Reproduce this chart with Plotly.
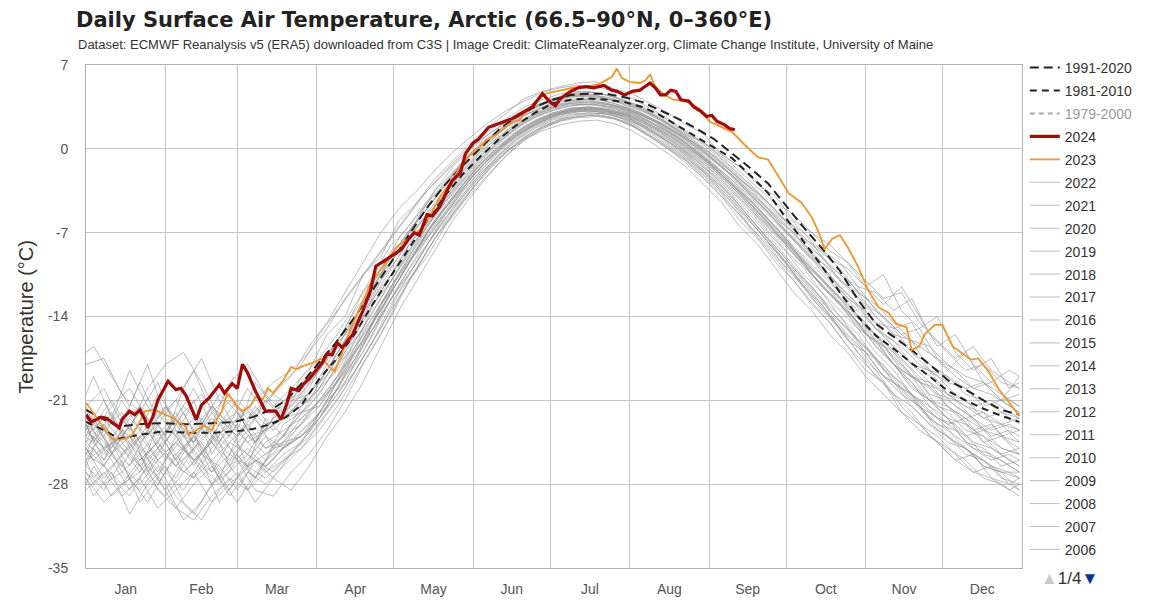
import plotly.graph_objects as go

# ---------------- axes / labels ----------------
month_names = ["Jan", "Feb", "Mar", "Apr", "May", "Jun", "Jul", "Aug", "Sep", "Oct", "Nov", "Dec"]
month_starts = [0, 31, 59, 90, 120, 151, 181, 212, 243, 273, 304, 334, 365]
month_mids = [15.5, 45, 74.5, 105, 135.5, 166, 196.5, 227.5, 258, 288.5, 319, 349.5]
y_ticks = [-35, -28, -21, -14, -7, 0, 7]
y_tick_text = ["-35", "-28", "-21", "-14", "-7", "0", "7"]

# ---------------- climatologies ----------------
clim_days = [0, 7, 13, 20, 30, 40, 50, 58, 65, 72, 78, 84, 91, 97, 105, 112, 119, 126, 133, 140,
             147, 154, 161, 168, 175, 182, 189, 196, 203, 210, 217, 224, 231, 238, 245, 252, 259, 266, 273, 280,
             287, 294, 301, 308, 315, 322, 329, 336, 343, 350, 357, 364]
clim_1991_2020 = [-21.8, -22.6, -23.2, -23.0, -22.9, -23.0, -22.9, -22.8, -22.4, -21.8, -21.0, -19.6, -17.8, -16.3,
                  -14.0, -11.7, -9.4, -7.1, -4.9, -3.0, -1.4, 0.1, 1.6, 2.7, 3.5, 4.1, 4.5, 4.6, 4.6, 4.3,
                  3.9, 3.2, 2.5, 1.7, 0.8, -0.4, -1.6, -2.9, -4.8, -6.6, -8.3, -10.2, -12.6, -14.6, -15.7, -16.8,
                  -18.0, -19.3, -20.1, -21.0, -21.8, -22.2]
clim_1981_2010 = [-22.8, -23.5, -24.2, -23.9, -23.6, -23.7, -23.7, -23.6, -23.4, -23.0, -22.4, -21.4, -19.2, -17.7,
                  -15.4, -12.9, -10.6, -8.3, -6.0, -3.9, -2.1, -0.6, 0.8, 2.0, 3.0, 3.8, 4.1, 4.2, 4.1, 3.9,
                  3.5, 2.8, 1.9, 1.0, 0.1, -0.8, -2.2, -3.7, -5.8, -7.8, -9.8, -12.0, -14.0, -15.6, -16.7, -17.9,
                  -19.0, -20.2, -21.0, -21.7, -22.3, -22.8]
# hidden in the reference (legend entry only)
clim_1979_2000_days = [0, 182, 364]
clim_1979_2000 = [-23.5, 3.6, -23.5]

# ---------------- 2024 ----------------
days_2024 = [0, 2, 6, 8, 13, 14, 17, 19, 21, 23, 24, 26, 28, 32, 35, 37, 39, 43, 45, 48, 52, 54, 57, 59, 61, 63,
             66, 68, 70, 74, 76, 78, 80, 83, 85, 87, 89, 92, 94, 96, 98, 100, 104, 108, 111, 113, 116, 119, 123,
             126, 128, 130, 133, 135, 138, 141, 143, 146, 148, 151, 153, 157, 161, 166, 170, 174, 178, 181, 183,
             185, 189, 192, 195, 198, 202, 205, 207, 210, 213, 216, 218, 220, 222, 224, 226, 228, 230, 232, 235,
             237, 240, 242, 244, 246, 249, 251, 253]
temp_2024 = [-22.2, -22.8, -22.4, -22.5, -23.3, -22.6, -21.9, -22.2, -21.8, -22.6, -23.3, -22.4, -21.0, -19.4, -20.1,
             -20.0, -20.6, -22.6, -21.4, -20.8, -19.7, -20.4, -19.6, -20.0, -18.0, -18.7, -20.2, -21.1, -21.9, -21.9,
             -22.6, -21.5, -20.0, -20.2, -19.6, -19.2, -18.7, -17.9, -17.1, -17.2, -16.2, -16.6, -15.5, -13.5, -11.8,
             -9.8, -9.4, -9.0, -8.4, -7.5, -7.0, -7.2, -5.5, -5.6, -4.8, -3.4, -2.6, -2.0, -0.4, 0.5, 0.8, 1.8, 2.1,
             2.5, 3.0, 3.5, 4.6, 3.9, 3.6, 4.2, 4.8, 5.1, 5.2, 5.1, 5.3, 4.9, 4.8, 4.5, 4.8, 4.9, 5.2, 5.5, 5.1, 4.5,
             4.5, 4.9, 4.8, 4.1, 4.0, 3.5, 3.1, 2.7, 2.8, 2.3, 2.0, 1.7, 1.6]

# ---------------- 2023 ----------------
days_2023 = [0, 2, 5, 8, 10, 13, 15, 18, 21, 23, 26, 28, 31, 34, 36, 39, 40, 43, 46, 49, 51, 53, 55, 57, 59, 61,
             64, 66, 69, 71, 73, 74, 77, 80, 82, 85, 88, 90, 92, 95, 97, 100, 103, 107, 111, 116, 121, 125, 130,
             134, 138, 142, 146, 150, 154, 156, 160, 165, 169, 172, 176, 179, 184, 190, 195, 200, 205, 207, 209,
             212, 216, 218, 220, 222, 225, 229, 233, 236, 240, 243, 247, 252, 257, 262, 266, 270, 274, 279, 283,
             286, 288, 291, 294, 297, 301, 305, 309, 313, 316, 320, 322, 325, 327, 331, 334, 338, 342, 345, 348,
             352, 356, 360, 363, 364]
temp_2023 = [-21.2, -21.8, -22.6, -23.6, -24.2, -24.3, -24.2, -23.9, -22.8, -21.9, -21.8, -21.9, -22.2, -22.5, -22.8,
             -23.2, -23.9, -23.5, -23.1, -23.5, -22.6, -21.9, -20.4, -20.9, -21.5, -21.9, -21.5, -20.7, -20.9, -20.0,
             -20.4, -20.1, -19.3, -18.2, -18.4, -18.1, -17.9, -17.7, -17.5, -18.2, -18.6, -17.0, -15.1, -13.2, -11.2,
             -9.8, -8.2, -7.6, -6.8, -5.7, -4.0, -2.9, -1.5, -0.4, 0.2, 0.7, 1.2, 2.1, 2.4, 3.2, 4.1, 4.6, 4.8, 5.1,
             5.2, 5.4, 6.0, 6.7, 5.9, 5.6, 5.5, 5.7, 6.2, 5.2, 4.6, 4.1, 4.0, 3.8, 3.2, 2.3, 1.9, 1.4, 0.3, -0.7,
             -0.9, -2.3, -3.7, -4.5, -5.7, -7.1, -8.4, -7.5, -7.2, -8.2, -9.8, -11.8, -13.2, -13.7, -14.6, -14.9,
             -16.8, -16.5, -15.5, -14.7, -14.7, -16.5, -17.1, -17.6, -17.5, -18.6, -20.1, -21.2, -22.1, -22.3]

# ---------------- earlier years (weekly readings) ----------------
week_days = list(range(0, 365, 7))
week_days_b = [0] + list(range(3, 361, 7)) + [364]

y2022 = [-22.0, -23.5, -22.0, -24.5, -23.0, -21.0, -23.5, -21.5, -23.0, -22.0, -23.5, -21.0, -20.5,
         -18.5, -16.0, -14.0, -11.5, -9.0, -6.8, -5.0, -3.0, -1.2, 0.2,
         1.4, 2.6, 3.4, 4.0, 4.4, 4.5, 4.3, 3.9, 3.4, 2.6, 1.7,
         0.8, -0.4, -1.6, -3.0, -4.5, -6.0, -7.5, -8.5, -10.0,
         -12.0, -13.0, -14.5, -16.0, -16.5, -18.0, -19.0, -19.5, -21.0, -20.5]
y2021 = [-23.5, -21.0, -24.0, -22.0, -25.0, -22.5, -20.0, -23.0, -19.5, -18.0, -20.5, -22.0, -19.0,
         -17.5, -15.5, -13.0, -10.5, -8.0, -6.5, -4.5, -2.8, -1.0, 0.4,
         1.4, 2.5, 3.2, 3.9, 4.3, 4.4, 4.2, 3.8, 3.2, 2.4, 1.4,
         0.4, -0.8, -2.0, -3.5, -5.0, -6.5, -8.0, -9.5, -11.0,
         -12.5, -14.0, -15.5, -17.0, -18.0, -19.0, -20.5, -21.0, -22.0, -22.5]
y2020 = [-22.0, -24.0, -21.0, -23.5, -20.5, -22.5, -24.5, -21.5, -23.0, -20.0, -22.0, -21.5, -20.0,
         -18.5, -16.5, -14.0, -11.0, -9.5, -7.0, -4.5, -3.0, -1.0, 0.5,
         1.6, 2.8, 3.5, 4.2, 4.6, 4.8, 4.5, 4.1, 3.5, 2.8, 1.8,
         0.9, -0.2, -1.3, -2.7, -4.0, -5.5, -7.0, -8.5, -9.5,
         -11.5, -12.0, -13.5, -12.5, -15.5, -17.0, -18.5, -18.0, -19.5, -20.0]
y2019 = [-22.5, -25.0, -23.0, -21.5, -24.0, -22.0, -24.5, -23.0, -21.0, -22.5, -21.0, -19.5, -18.0,
         -15.5, -13.5, -11.5, -9.5, -7.5, -5.5, -3.5, -2.0, -0.5, 0.8,
         1.8, 2.9, 3.6, 4.2, 4.6, 4.7, 4.5, 4.0, 3.3, 2.5, 1.5,
         0.5, -0.6, -2.0, -3.3, -5.0, -6.3, -8.0, -9.0, -11.0,
         -12.0, -14.0, -15.5, -16.0, -18.5, -19.5, -20.0, -21.5, -21.0, -22.0]
y2018 = [-21.5, -20.0, -23.0, -19.5, -22.5, -21.0, -18.5, -22.0, -20.5, -23.5, -21.0, -22.5, -19.5,
         -18.0, -16.0, -13.5, -11.5, -9.0, -7.0, -5.0, -3.0, -1.2, 0.3,
         1.5, 2.6, 3.4, 4.1, 4.5, 4.6, 4.3, 3.9, 3.2, 2.5, 1.6,
         0.6, -0.6, -1.8, -3.2, -4.5, -6.0, -7.0, -9.0, -10.5,
         -11.5, -13.5, -15.0, -14.5, -17.0, -18.5, -17.0, -19.5, -20.5, -21.5]
y2017 = [-18.0, -17.5, -20.5, -22.0, -19.5, -23.5, -24.5, -22.0, -24.0, -21.5, -23.0, -22.5, -21.0,
         -19.5, -17.0, -14.5, -12.5, -10.0, -7.5, -5.5, -3.8, -1.8, -0.2,
         1.0, 2.2, 3.0, 3.6, 4.0, 4.1, 3.8, 3.4, 2.8, 2.0, 1.1,
         0.0, -1.4, -2.6, -4.0, -5.5, -7.0, -8.5, -10.0, -11.5,
         -13.0, -15.0, -16.5, -18.0, -18.5, -20.5, -21.5, -22.5, -22.0, -23.0]
y2016 = [-23.0, -24.5, -26.5, -24.0, -26.0, -24.5, -22.5, -24.5, -26.0, -24.0, -23.5, -22.5, -21.5,
         -20.0, -17.5, -15.0, -13.0, -10.5, -8.0, -6.0, -4.0, -2.2, -0.6,
         0.9, 2.0, 2.9, 3.5, 3.9, 4.0, 3.8, 3.5, 2.9, 2.2, 1.3,
         0.3, -0.9, -2.2, -3.6, -5.0, -6.8, -8.2, -9.8, -11.5,
         -13.0, -14.5, -15.0, -17.0, -18.5, -19.0, -20.0, -19.5, -21.0, -19.0]
y2015 = [-23.5, -25.0, -24.0, -22.0, -24.5, -26.5, -24.0, -22.5, -24.0, -25.5, -23.0, -22.5, -21.0,
         -19.5, -18.0, -15.5, -13.0, -10.5, -8.5, -6.2, -4.2, -2.3, -0.8,
         0.7, 1.9, 2.8, 3.4, 3.8, 3.8, 3.7, 3.4, 2.8, 2.1, 1.2,
         0.1, -1.1, -2.3, -3.8, -5.3, -6.9, -8.5, -10.0, -11.8,
         -13.2, -15.0, -16.0, -18.0, -19.0, -20.5, -21.5, -22.0, -23.0, -23.5]
y2014 = [-26.0, -23.5, -25.0, -27.0, -23.0, -25.5, -27.5, -25.0, -22.5, -24.5, -26.0, -23.0, -22.0,
         -20.5, -18.0, -16.5, -13.0, -11.0, -8.5, -6.5, -4.2, -2.5, -0.8,
         0.6, 1.8, 2.7, 3.3, 3.7, 3.7, 3.6, 3.3, 2.7, 2.1, 1.2,
         0.2, -1.0, -2.2, -3.8, -5.3, -7.0, -8.6, -10.2, -12.0,
         -13.5, -15.0, -16.5, -18.0, -19.5, -20.5, -21.0, -22.5, -23.0, -22.5]
y2013 = [-23.0, -26.0, -22.5, -24.5, -27.5, -24.0, -21.0, -25.5, -23.0, -26.5, -22.5, -24.0, -21.5,
         -20.0, -17.5, -15.5, -12.5, -10.5, -8.0, -6.0, -4.0, -2.0, -0.5,
         0.8, 2.0, 2.8, 3.4, 3.8, 3.9, 3.7, 3.3, 2.8, 2.0, 1.0,
         -0.2, -1.5, -3.0, -4.3, -6.0, -7.5, -9.5, -11.0, -12.5,
         -14.5, -15.5, -17.5, -19.0, -19.5, -21.5, -22.5, -22.0, -24.0, -23.5]
y2012 = [-24.5, -26.0, -23.5, -25.0, -27.0, -24.5, -26.0, -24.5, -23.0, -24.5, -23.5, -22.5, -22.0,
         -20.0, -18.5, -16.0, -13.5, -11.0, -8.8, -6.5, -4.5, -2.6, -1.0,
         0.5, 1.7, 2.6, 3.2, 3.6, 3.7, 3.5, 3.2, 2.6, 1.8, 0.9,
         -0.2, -1.4, -2.8, -4.3, -5.9, -7.5, -9.2, -10.8, -12.5,
         -14.0, -16.0, -17.0, -19.0, -20.0, -21.5, -22.5, -23.5, -23.0, -24.5]
y2011 = [-24.0, -25.5, -23.5, -26.0, -24.5, -22.5, -25.5, -27.0, -24.5, -23.0, -25.0, -24.0, -22.0,
         -21.5, -19.0, -16.0, -14.0, -11.5, -9.0, -6.5, -4.5, -2.8, -1.2,
         0.3, 1.5, 2.4, 3.0, 3.4, 3.5, 3.4, 3.1, 2.5, 1.8, 0.9,
         -0.1, -1.3, -2.6, -4.2, -5.8, -7.5, -9.0, -10.5, -12.0,
         -14.0, -15.5, -17.0, -18.5, -20.5, -21.0, -22.0, -23.5, -24.0, -24.5]
y2010 = [-25.0, -23.0, -25.5, -24.0, -22.0, -24.0, -26.0, -24.5, -26.5, -24.0, -25.5, -24.5, -22.5,
         -21.0, -19.0, -17.0, -14.5, -12.0, -9.5, -7.0, -5.0, -3.0, -1.3,
         0.1, 1.4, 2.3, 2.9, 3.3, 3.4, 3.3, 3.0, 2.4, 1.6, 0.6,
         -0.5, -1.8, -3.2, -4.8, -6.4, -8.0, -9.8, -11.3, -13.0,
         -14.8, -16.2, -18.0, -19.8, -21.0, -22.5, -23.0, -24.0, -25.5, -25.0]
y2009 = [-25.5, -26.5, -24.0, -25.5, -23.5, -26.0, -24.0, -27.0, -25.5, -23.5, -25.0, -24.5, -23.0,
         -21.0, -19.5, -17.0, -14.5, -11.5, -9.5, -7.0, -5.0, -3.0, -1.5,
         0.0, 1.3, 2.2, 2.9, 3.3, 3.5, 3.3, 3.0, 2.4, 1.6, 0.7,
         -0.4, -1.6, -3.0, -4.6, -6.2, -7.8, -9.5, -11.0, -12.8,
         -14.5, -16.0, -18.0, -19.0, -21.0, -22.0, -23.5, -24.0, -25.0, -25.5]
y2008 = [-24.5, -23.0, -25.0, -26.5, -25.0, -23.5, -26.5, -24.0, -25.5, -26.5, -24.5, -23.5, -22.5,
         -21.0, -19.0, -16.5, -14.0, -11.5, -9.0, -6.8, -4.8, -3.0, -1.2,
         0.2, 1.4, 2.3, 3.0, 3.4, 3.5, 3.3, 2.9, 2.2, 1.4, 0.3,
         -1.0, -2.4, -4.0, -5.8, -7.6, -9.5, -11.5, -13.0, -15.0,
         -16.5, -18.5, -19.5, -21.5, -23.0, -24.0, -25.5, -26.0, -27.0, -28.5]
y2007 = [-27.5, -29.5, -28.0, -26.0, -24.5, -26.5, -25.0, -23.5, -25.0, -26.5, -25.5, -24.0, -23.0,
         -21.5, -19.5, -16.5, -14.5, -12.0, -9.5, -7.2, -5.2, -3.3, -1.5,
         -0.1, 1.2, 2.1, 2.8, 3.2, 3.3, 3.2, 2.9, 2.3, 1.5, 0.5,
         -0.6, -1.8, -3.2, -4.8, -6.5, -8.0, -9.8, -11.5, -13.0,
         -14.5, -16.5, -18.0, -19.5, -21.5, -23.0, -22.5, -24.5, -25.5, -26.5]
y2006 = [-24.0, -22.5, -24.5, -26.5, -28.0, -25.5, -24.0, -26.0, -28.5, -26.0, -24.0, -25.0, -24.0,
         -22.0, -20.0, -17.5, -15.0, -12.5, -10.0, -7.5, -5.5, -3.5, -1.8,
         -0.2, 1.1, 2.0, 2.7, 3.2, 3.4, 3.2, 2.8, 2.2, 1.4, 0.4,
         -0.7, -2.0, -3.4, -5.0, -6.6, -8.2, -9.6, -11.5, -13.0,
         -15.0, -16.0, -18.0, -19.5, -21.0, -21.5, -23.0, -24.5, -24.0, -25.5]
y1998 = [-25.5, -24.0, -27.0, -28.5, -26.5, -29.0, -30.5, -28.0, -27.0, -25.5, -26.5, -25.0, -23.5,
         -22.0, -19.5, -17.5, -14.5, -12.0, -9.5, -7.0, -5.0, -3.2, -1.5,
         -0.1, 1.2, 2.2, 2.8, 3.3, 3.4, 3.2, 2.9, 2.3, 1.5, 0.6,
         -0.4, -1.6, -3.0, -4.6, -6.2, -8.0, -9.5, -11.5, -13.0,
         -14.5, -16.5, -18.0, -20.0, -21.0, -22.5, -24.0, -23.5, -25.0, -25.5]
y1985 = [-25.0, -27.5, -25.5, -23.5, -26.0, -27.5, -25.0, -23.0, -26.5, -28.5, -27.0, -26.0, -25.0,
         -23.0, -21.0, -18.5, -16.0, -13.0, -10.5, -8.0, -6.0, -4.0, -2.2,
         -0.5, 0.9, 1.9, 2.6, 3.1, 3.3, 3.1, 2.8, 2.1, 1.3, 0.3,
         -0.8, -2.0, -3.5, -5.0, -6.8, -8.5, -10.0, -12.0, -13.5,
         -15.0, -17.0, -18.5, -20.5, -21.5, -22.5, -24.5, -25.0, -26.5, -26.0]
y1966 = [-26.5, -28.0, -27.0, -25.5, -28.5, -30.0, -31.0, -29.0, -27.5, -28.5, -26.0, -24.5, -24.0,
         -22.5, -20.0, -17.0, -15.0, -12.0, -9.5, -7.5, -5.5, -3.5, -1.8,
         -0.3, 1.0, 2.0, 2.7, 3.1, 3.2, 3.1, 2.7, 2.0, 1.2, 0.2,
         -0.9, -2.2, -3.6, -5.2, -7.0, -8.6, -10.5, -12.0, -14.0,
         -15.5, -17.5, -19.0, -20.5, -22.0, -23.0, -24.0, -25.5, -26.0, -27.0]
y1958 = [-25.0, -26.5, -28.0, -27.0, -25.0, -26.5, -27.5, -26.0, -24.5, -25.5, -27.0, -25.5, -24.5,
         -22.5, -20.0, -17.5, -15.0, -12.5, -10.5, -8.0, -5.8, -3.8, -2.0,
         -0.5, 0.8, 1.8, 2.5, 3.0, 3.2, 3.0, 2.7, 2.0, 1.1, 0.1,
         -1.0, -2.3, -3.8, -5.5, -7.2, -9.0, -10.8, -12.5, -14.0,
         -16.0, -17.5, -19.5, -20.5, -22.5, -24.0, -25.0, -26.5, -27.0, -27.0]
y1950 = [-27.0, -28.5, -26.0, -29.5, -27.5, -30.0, -28.0, -26.5, -29.0, -27.0, -28.0, -26.5, -25.0,
         -23.5, -21.5, -19.0, -16.5, -14.0, -11.0, -9.0, -6.5, -4.5, -2.8,
         -1.2, 0.2, 1.3, 2.1, 2.6, 2.8, 2.7, 2.3, 1.5, 0.6, -0.4,
         -1.6, -3.0, -4.5, -6.5, -8.0, -10.0, -11.5, -13.5, -15.0,
         -17.0, -18.5, -20.5, -21.5, -23.0, -24.5, -25.0, -26.5, -27.0, -27.5]
y1945 = [-28.5, -27.0, -29.0, -27.5, -30.0, -28.5, -27.0, -29.5, -28.0, -26.5, -27.5, -26.0, -24.5,
         -22.5, -20.5, -18.0, -15.5, -12.5, -10.0, -8.0, -5.5, -3.8, -2.0,
         -0.6, 0.7, 1.7, 2.4, 2.9, 3.0, 2.9, 2.5, 1.9, 1.0, 0.0,
         -1.2, -2.6, -4.0, -5.8, -7.5, -9.2, -11.0, -12.5, -14.5,
         -16.0, -17.5, -19.5, -21.0, -22.5, -23.5, -25.0, -26.0, -27.5, -28.0]
y1941 = [-26.0, -25.0, -26.5, -28.0, -26.0, -24.5, -26.0, -28.0, -26.5, -25.0, -26.5, -25.0, -24.0,
         -22.5, -20.5, -18.5, -16.0, -13.5, -11.0, -8.5, -6.2, -4.2, -2.4,
         -0.8, 0.5, 1.5, 2.2, 2.8, 3.0, 2.9, 2.5, 1.8, 0.9, -0.2,
         -1.4, -2.8, -4.3, -6.0, -7.8, -9.6, -11.5, -13.2, -15.0,
         -17.0, -19.0, -20.5, -22.0, -24.0, -25.0, -26.0, -27.5, -28.0, -29.0]

# second batch, read at days offset by 3
y2005 = [-20.5,
         -19.0, -22.5, -18.5, -21.5, -24.0, -20.0, -17.5, -21.0, -23.5, -19.5, -21.5, -20.0,
         -18.5, -15.5, -14.0, -10.5, -9.0, -6.0, -4.5, -2.5, -1.0, 0.5,
         1.8, 3.0, 4.2, 4.8, 5.2, 5.5, 5.6, 5.0, 4.6, 3.8, 3.0,
         2.0, 1.2, -0.5, -1.5, -3.0, -4.0, -6.0, -7.0, -8.5,
         -9.5, -11.5, -10.5, -13.5, -15.0, -14.0, -17.0, -18.5, -17.5, -20.0,
         -19.5]
y1979 = [-27.5,
         -29.0, -27.0, -30.5, -28.0, -26.5, -29.5, -31.0, -28.5, -27.0, -29.5, -27.5, -28.5,
         -26.5, -24.0, -22.0, -19.5, -16.5, -13.5, -11.0, -8.5, -6.0, -4.0,
         -2.2, -0.5, 0.8, 1.7, 2.3, 2.6, 2.7, 2.5, 1.9, 1.0, 0.0,
         -1.0, -2.5, -4.0, -6.0, -7.5, -9.5, -11.0, -13.0, -14.5,
         -16.5, -18.5, -19.5, -22.0, -23.0, -24.5, -26.0, -25.5, -27.5, -28.0,
         -27.5]
y2002 = [-23.5,
         -22.0, -24.5, -26.5, -23.5, -21.5, -24.0, -26.0, -23.0, -22.0, -24.5, -22.5, -21.5,
         -20.0, -17.0, -15.5, -13.0, -10.0, -8.0, -6.0, -3.5, -2.0, -0.5,
         0.8, 2.0, 3.0, 3.8, 4.3, 4.5, 4.4, 4.0, 3.5, 2.8, 2.0,
         1.2, 0.5, -0.5, -1.5, -2.8, -4.5, -5.5, -7.0, -8.0,
         -9.5, -11.0, -12.5, -12.0, -14.5, -16.0, -17.5, -16.5, -18.5, -19.5,
         -20.0]
y1964 = [-25.5,
         -24.0, -26.0, -28.5, -26.5, -24.5, -27.0, -25.5, -23.5, -26.0, -27.5, -25.0, -24.5,
         -23.0, -21.5, -19.0, -17.0, -14.0, -11.5, -9.5, -7.0, -5.0, -3.2,
         -1.5, -0.2, 0.8, 1.5, 2.0, 2.3, 2.4, 2.1, 1.5, 0.6, -0.4,
         -1.5, -3.0, -4.5, -6.5, -8.0, -10.0, -12.0, -13.5, -15.5,
         -17.0, -19.0, -20.5, -22.0, -23.5, -24.5, -26.0, -27.0, -26.5, -28.0,
         -28.5]
y1995 = [-17.0,
         -16.5, -19.0, -21.5, -18.0, -22.5, -25.0, -23.0, -20.5, -22.0, -24.5, -23.0, -22.0,
         -20.5, -18.5, -16.0, -14.0, -11.0, -8.5, -6.5, -4.5, -2.5, -1.0,
         0.5, 1.8, 2.8, 3.5, 4.0, 4.2, 4.2, 3.8, 3.2, 2.5, 1.5,
         0.5, -0.8, -2.0, -3.5, -5.0, -6.5, -8.5, -10.0, -11.5,
         -13.0, -14.5, -16.5, -18.0, -19.5, -20.0, -21.5, -22.5, -24.0, -23.5,
         -24.0]
y1969 = [-26.5,
         -25.0, -27.5, -29.0, -26.5, -28.0, -31.0, -29.5, -27.0, -25.5, -27.5, -26.0, -24.0,
         -22.0, -20.5, -18.5, -15.5, -13.5, -10.5, -8.5, -6.5, -4.5, -2.5,
         -0.8, 0.6, 1.6, 2.4, 3.0, 3.2, 3.1, 2.9, 2.3, 1.5, 0.6,
         -0.4, -1.8, -3.2, -4.8, -6.5, -8.2, -10.0, -11.5, -13.5,
         -15.0, -17.0, -18.0, -20.0, -21.0, -22.5, -23.0, -24.5, -25.0, -26.0,
         -26.5]
y1990 = [-24.0,
         -22.5, -25.5, -23.0, -27.0, -24.5, -22.0, -25.0, -27.5, -24.0, -22.5, -25.0, -23.0,
         -21.5, -19.5, -17.0, -15.0, -12.5, -10.0, -7.5, -5.5, -3.5, -2.0,
         -0.3, 1.1, 2.2, 2.9, 3.4, 3.7, 3.7, 3.4, 2.9, 2.2, 1.3,
         0.3, -0.9, -2.3, -3.8, -5.3, -7.0, -8.5, -10.5, -12.0,
         -13.5, -15.5, -16.5, -18.5, -19.5, -21.5, -22.0, -23.5, -23.0, -24.5,
         -25.0]
y2004 = [-23.0,
         -24.5, -22.5, -24.0, -25.5, -23.5, -21.5, -23.0, -24.5, -22.5, -21.0, -19.5, -18.5,
         -17.0, -15.0, -12.5, -10.5, -8.5, -6.5, -4.5, -2.8, -1.2, 0.3,
         1.5, 2.5, 3.5, 4.1, 4.6, 4.8, 4.7, 4.3, 3.8, 3.0, 2.1,
         1.0, -0.2, -1.5, -3.0, -4.5, -6.0, -7.5, -9.0, -10.5,
         -12.5, -13.5, -15.5, -16.5, -18.0, -19.0, -20.5, -21.5, -21.0, -22.0,
         -22.5]
y1975 = [-27.0,
         -28.0, -26.5, -25.0, -27.5, -29.0, -27.0, -25.5, -26.5, -28.5, -26.0, -27.0, -25.5,
         -24.0, -22.0, -20.0, -17.5, -15.0, -12.0, -10.0, -7.5, -5.5, -3.5,
         -1.8, -0.3, 0.9, 1.8, 2.4, 2.7, 2.8, 2.5, 1.9, 1.0, 0.0,
         -1.2, -2.5, -4.0, -5.5, -7.2, -9.0, -10.5, -12.5, -14.0,
         -16.0, -17.0, -19.0, -20.5, -21.5, -23.5, -24.5, -25.5, -26.5, -27.0,
         -27.5]
y2000 = [-22.5,
         -23.5, -21.5, -20.0, -22.5, -24.5, -22.0, -20.5, -22.5, -24.0, -22.0, -20.5, -21.5,
         -19.5, -17.5, -15.0, -12.0, -10.0, -7.5, -5.5, -3.5, -1.5, 0.0,
         1.2, 2.3, 3.2, 3.8, 4.2, 4.4, 4.3, 4.0, 3.4, 2.6, 1.8,
         0.8, -0.3, -1.5, -2.8, -4.3, -5.8, -7.0, -8.8, -10.0,
         -11.5, -13.0, -14.0, -15.5, -16.5, -17.5, -18.5, -20.0, -19.5, -21.0,
         -21.5]
y1971 = [-28.0,
         -26.5, -29.0, -27.5, -25.5, -27.0, -28.5, -26.0, -29.5, -27.5, -26.0, -27.5, -25.5,
         -23.5, -21.0, -19.5, -16.5, -13.0, -11.0, -8.5, -6.0, -4.2, -2.5,
         -0.9, 0.5, 1.5, 2.3, 2.9, 3.1, 3.1, 2.8, 2.1, 1.3, 0.3,
         -0.8, -2.0, -3.6, -5.2, -6.8, -8.5, -10.2, -11.8, -13.5,
         -15.0, -16.5, -18.5, -19.5, -21.5, -22.5, -24.0, -25.0, -25.5, -26.5,
         -27.0]
y1992 = [-24.5,
         -23.0, -21.0, -23.5, -20.0, -18.0, -17.0, -19.5, -22.5, -24.0, -21.5, -23.5, -22.0,
         -21.0, -18.5, -16.0, -13.5, -11.0, -9.0, -6.5, -4.8, -2.8, -1.2,
         0.3, 1.5, 2.5, 3.2, 3.7, 3.9, 3.9, 3.6, 3.0, 2.3, 1.4,
         0.4, -0.8, -2.2, -3.6, -5.2, -6.8, -8.4, -10.0, -11.6,
         -13.2, -14.8, -16.0, -17.5, -19.0, -20.5, -21.0, -22.5, -23.5, -23.0,
         -23.5]
y1956 = [-25.0,
         -26.0, -24.5, -27.5, -29.5, -27.0, -25.0, -26.5, -28.0, -26.0, -28.5, -29.0, -27.0,
         -25.5, -23.5, -21.0, -18.0, -15.5, -12.5, -10.0, -7.5, -5.5, -3.5,
         -1.6, -0.2, 1.0, 1.9, 2.5, 2.8, 2.9, 2.6, 2.0, 1.1, 0.1,
         -1.0, -2.3, -3.8, -5.6, -7.4, -9.2, -11.0, -12.8, -14.5,
         -16.5, -18.0, -19.5, -21.5, -23.0, -24.0, -25.5, -27.0, -27.5, -28.5,
         -28.0]
y2003 = [-21.5,
         -23.0, -25.0, -22.5, -24.0, -21.5, -23.5, -25.5, -23.0, -21.0, -22.5, -20.5, -19.0,
         -16.5, -14.5, -12.0, -9.5, -7.0, -5.0, -3.5, -1.8, -0.3, 1.0,
         2.2, 3.2, 4.0, 4.7, 5.1, 5.3, 5.2, 4.8, 4.2, 3.4, 2.5,
         1.5, 0.5, -0.8, -2.2, -3.6, -5.2, -6.8, -8.2, -9.8,
         -11.0, -12.5, -14.0, -15.5, -15.0, -17.5, -19.0, -20.0, -20.5, -21.5,
         -22.0]
y1988 = [-26.0,
         -27.5, -25.5, -24.0, -26.5, -28.5, -26.0, -24.5, -27.5, -29.5, -27.0, -25.5, -24.5,
         -23.5, -21.0, -18.0, -16.0, -13.0, -10.5, -8.2, -6.0, -4.0, -2.2,
         -0.6, 0.7, 1.8, 2.6, 3.1, 3.3, 3.3, 3.0, 2.4, 1.6, 0.6,
         -0.6, -1.9, -3.4, -5.0, -6.8, -8.6, -10.4, -12.0, -13.8,
         -15.5, -17.0, -19.0, -20.0, -21.5, -23.0, -23.5, -25.0, -26.0, -25.5,
         -26.0]
y2001 = [-23.0,
         -24.5, -22.0, -25.0, -23.5, -26.0, -24.0, -22.5, -25.0, -23.0, -24.5, -22.5, -21.0,
         -20.5, -18.0, -15.5, -13.5, -10.5, -8.5, -6.0, -4.2, -2.2, -0.8,
         0.6, 1.8, 2.8, 3.4, 3.9, 4.1, 4.1, 3.8, 3.3, 2.6, 1.8,
         0.9, 0.0, -1.2, -2.5, -3.8, -5.4, -6.5, -8.0, -9.2,
         -10.0, -11.5, -13.0, -11.5, -14.0, -16.5, -15.5, -18.0, -19.5, -18.5,
         -19.0]

legend_years = [("2022", y2022), ("2021", y2021), ("2020", y2020), ("2019", y2019), ("2018", y2018),
                ("2017", y2017), ("2016", y2016), ("2015", y2015), ("2014", y2014), ("2013", y2013),
                ("2012", y2012), ("2011", y2011), ("2010", y2010), ("2009", y2009), ("2008", y2008),
                ("2007", y2007), ("2006", y2006)]
older_years = [("1998", y1998), ("1985", y1985), ("1966", y1966), ("1958", y1958), ("1950", y1950),
               ("1945", y1945), ("1941", y1941)]
older_years_b = [("2005", y2005), ("1979", y1979), ("2002", y2002), ("1964", y1964), ("1995", y1995),
                 ("1969", y1969), ("1990", y1990), ("2004", y2004), ("1975", y1975), ("2000", y2000),
                 ("1971", y1971), ("1992", y1992), ("1956", y1956), ("2003", y2003), ("1988", y1988),
                 ("2001", y2001)]

GRAY = "rgba(145,145,145,0.6)"
FONT = "Liberation Sans, Arial, sans-serif"

fig = go.Figure()

for name, vals in older_years_b:
    fig.add_trace(go.Scatter(x=week_days_b, y=vals, mode="lines", name=name,
                             line=dict(color=GRAY, width=1), showlegend=False, hoverinfo="skip"))
for name, vals in older_years:
    fig.add_trace(go.Scatter(x=week_days, y=vals, mode="lines", name=name,
                             line=dict(color=GRAY, width=1), showlegend=False, hoverinfo="skip"))
for name, vals in legend_years[::-1]:
    fig.add_trace(go.Scatter(
        x=week_days, y=vals, mode="lines", name=name,
        line=dict(color=GRAY, width=1),
        showlegend=True, legendgroup=name,
        legendrank=100 + (2022 - int(name)),
        hoverinfo="skip"))

fig.add_trace(go.Scatter(x=clim_days, y=clim_1981_2010, mode="lines", name="1981-2010",
                         line=dict(color="#222222", width=2, dash="7px,5px"),
                         legendgroup="1981-2010", legendrank=2))
fig.add_trace(go.Scatter(x=clim_days, y=clim_1991_2020, mode="lines", name="1991-2020",
                         line=dict(color="#222222", width=2, dash="9px,5px"),
                         legendgroup="1991-2020", legendrank=1))
fig.add_trace(go.Scatter(x=clim_1979_2000_days, y=clim_1979_2000, mode="lines", name="1979-2000",
                         visible="legendonly",
                         line=dict(color="#555555", width=2, dash="5px,4px"),
                         legendgroup="1979-2000", legendrank=3))
fig.add_trace(go.Scatter(x=days_2023, y=temp_2023, mode="lines", name="2023",
                         line=dict(color="#f0952b", width=1.8),
                         legendgroup="2023", legendrank=5))
fig.add_trace(go.Scatter(x=days_2024, y=temp_2024, mode="lines", name="2024",
                         line=dict(color="#a30a0a", width=3.2),
                         legendgroup="2024", legendrank=4))

fig.update_layout(
    width=1150, height=610,
    margin=dict(l=86, r=126, t=65, b=42),
    paper_bgcolor="white", plot_bgcolor="white",
    font=dict(family=FONT, size=14, color="#333333"),
    title=dict(text="<b>Daily Surface Air Temperature, Arctic (66.5–90°N, 0–360°E)</b>",
               x=76 / 1150, xanchor="left", xref="container",
               y=1 - 20 / 610, yanchor="middle", yref="container",
               font=dict(family="DejaVu Sans, Arial, sans-serif", size=21, color="#222222")),
    legend=dict(x=1.003, xanchor="left", y=1.026, yanchor="top", maxheight=560,
                font=dict(family=FONT, size=14, color="#333333"),
                tracegroupgap=1.75, bgcolor="rgba(0,0,0,0)", itemclick=False, itemdoubleclick=False),
    xaxis=dict(range=[0, 365], tickmode="array", tickvals=month_mids, ticktext=month_names,
               showgrid=False, zeroline=False, ticks="", ticklabelstandoff=8,
               tickfont=dict(family=FONT, size=14, color="#555555"),
               showline=True, linecolor="#b0b0b0", linewidth=1, mirror=True,
               minor=dict(tickmode="array", tickvals=month_starts, showgrid=True,
                          gridcolor="#c4c4c4", gridwidth=1, ticks="")),
    yaxis=dict(range=[-35, 7], tickmode="array", tickvals=y_ticks, ticktext=y_tick_text,
               showgrid=True, gridcolor="#c4c4c4", gridwidth=1, zeroline=False, ticks="",
               ticklabelstandoff=14, tickfont=dict(family=FONT, size=14, color="#555555"),
               showline=True, linecolor="#b0b0b0", linewidth=1, mirror=True),
    annotations=[
        dict(text="Dataset: ECMWF Reanalysis v5 (ERA5) downloaded from C3S | Image Credit: ClimateReanalyzer.org, "
                  "Climate Change Institute, University of Maine",
             xref="paper", yref="paper", x=(76 - 86) / 938, y=(568 - 45) / 503,
             xanchor="left", yanchor="middle", showarrow=False,
             font=dict(family=FONT, size=13, color="#333333")),
        dict(text="Temperature (°C)", textangle=-90, xref="paper", yref="paper",
             x=(25 - 86) / 938, y=0.5, xanchor="center", yanchor="middle", showarrow=False,
             font=dict(family=FONT, size=20, color="#333333")),
        dict(text='<span style="color:#cccccc">▲</span>1/4<span style="color:#003399">▼</span>',
             xref="paper", yref="paper", x=(1041 - 86) / 938, y=(568 - 578) / 503,
             xanchor="left", yanchor="middle", showarrow=False,
             font=dict(family=FONT, size=17, color="#333333")),
    ],
)

fig.write_html("out.html", config={"displayModeBar": False},
               post_script="document.body.style.margin='0px';document.body.style.overflow='hidden';")
